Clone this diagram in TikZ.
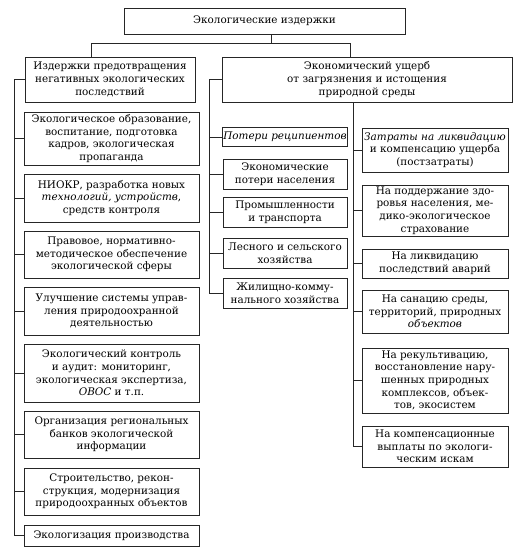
\documentclass[tikz,border=0pt]{standalone}
\usepackage{fontspec}
\setmainfont{DejaVu Serif}
\usepackage{tikz}
\usetikzlibrary{calc}
\tikzset{
  costbox/.style={draw=black!85, line width=0.7pt, align=center, inner sep=1pt,
    font=\fontsize{10.4}{12.6}\selectfont},
  link/.style={draw=black!85, line width=0.7pt}
}

\begin{document}
\begin{tikzpicture}[x=1pt,y=-1pt]
\useasboundingbox (0,0) rectangle (518,553);
\node[costbox, minimum width=281pt, minimum height=26pt] (top) at (264.5,21) {Экологические издержки};
\node[costbox, minimum width=170pt, minimum height=45pt] (prev) at (110,79.5) {Издержки предотвращения\\негативных экологических\\последствий};
\node[costbox, minimum width=290pt, minimum height=45pt] (econ) at (367,79.5) {Экономический ущерб\\от загрязнения и истощения\\природной среды};

\node[costbox, minimum width=175pt, minimum height=53pt] (e1) at (111.5,138.5) {Экологическое образование,\\воспитание, подготовка\\кадров, экологическая\\пропаганда};
\node[costbox, minimum width=175pt, minimum height=48pt] (e2) at (111.5,198) {НИОКР, разработка новых\\\textit{технологий, устройств},\\средств контроля};
\node[costbox, minimum width=175pt, minimum height=47pt] (e3) at (111.5,254.5) {Правовое, нормативно-\\методическое обеспечение\\экологической сферы};
\node[costbox, minimum width=175pt, minimum height=48pt] (e4) at (111.5,311) {Улучшение системы управ-\\ления природоохранной\\деятельностью};
\node[costbox, minimum width=175pt, minimum height=58pt] (e5) at (111.5,373) {Экологический контроль\\и аудит: мониторинг,\\экологическая экспертиза,\\\textit{ОВОС} и т.п.};
\node[costbox, minimum width=175pt, minimum height=47pt] (e6) at (111.5,434.5) {Организация региональных\\банков экологической\\информации};
\node[costbox, minimum width=175pt, minimum height=47pt] (e7) at (111.5,491.5) {Строительство, рекон-\\струкция, модернизация\\природоохранных объектов};
\node[costbox, minimum width=175pt, minimum height=21pt] (e8) at (111.5,535.5) {Экологизация производства};

\node[costbox, minimum width=124pt, minimum height=19pt] (m1) at (285,137) {\textit{Потери реципиентов}};
\node[costbox, minimum width=124pt, minimum height=30pt] (m2) at (285,174) {Экономические\\потери населения};
\node[costbox, minimum width=124pt, minimum height=30pt] (m3) at (285,212) {Промышленности\\и транспорта};
\node[costbox, minimum width=124pt, minimum height=30pt] (m4) at (285,253.5) {Лесного и сельского\\хозяйства};
\node[costbox, minimum width=124pt, minimum height=30pt] (m5) at (285,293.5) {Жилищно-комму-\\нального хозяйства};

\node[costbox, minimum width=146pt, minimum height=44pt] (r1) at (435,150) {\textit{Затраты на ликвидацию}\\и компенсацию ущерба\\(постзатраты)};
\node[costbox, minimum width=146pt, minimum height=51pt] (r2) at (435,210.5) {На поддержание здо-\\ровья населения, ме-\\дико-экологическое\\страхование};
\node[costbox, minimum width=146pt, minimum height=29pt] (r3) at (435,263.5) {На ликвидацию\\последствий аварий};
\node[costbox, minimum width=146pt, minimum height=43pt] (r4) at (435,311.5) {На санацию среды,\\территорий, природных\\\textit{объектов}};
\node[costbox, minimum width=146pt, minimum height=65pt] (r5) at (435,380.5) {На рекультивацию,\\восстановление нару-\\шенных природных\\комплексов, объек-\\тов, экосистем};
\node[costbox, minimum width=146pt, minimum height=41pt] (r6) at (435,446.5) {На компенсационные\\выплаты по экологи-\\ческим искам};

\draw[link] ([xshift=7pt]top.south) -- ++(0,9) coordinate (split);
\draw[link] ([xshift=-19pt]prev.north) |- (split) -| ([xshift=-17pt]econ.north);

\draw[link] (prev.west) -- ++(-10,0) coordinate (lbus) |- (e8.west);
\foreach \n in {e1,e2,e3,e4,e5,e6,e7}
  \draw[link] (\n.west) -- (lbus |- \n.west);

\draw[link] (econ.west) -- ++(-12,0) coordinate (mbus) |- (m5.west);
\foreach \n in {m1,m2,m3,m4}
  \draw[link] (\n.west) -- (mbus |- \n.west);

\coordinate (rbus) at ([xshift=-14pt]econ.south);
\draw[link] (rbus) |- (r6.west);
\foreach \n in {r1,r2,r3,r4,r5}
  \draw[link] (\n.west) -- (rbus |- \n.west);
\end{tikzpicture}
\end{document}
